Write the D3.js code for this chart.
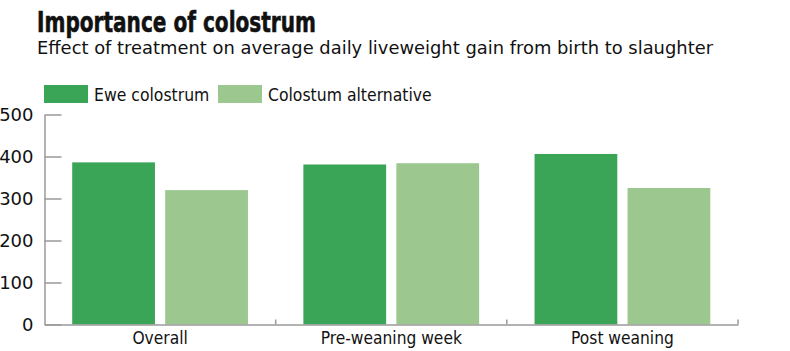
<!DOCTYPE html>
<html>
<head>
<meta charset="utf-8">
<script src="https://cdn.jsdelivr.net/npm/d3@7"></script>
<style>
  body { margin: 0; background: #fff; }
  svg { display: block; }
  text { font-family: "DejaVu Sans", sans-serif; }
</style>
</head>
<body>
<svg width="790" height="351"></svg>
<script>
const categories = ['Overall', 'Pre-weaning week', 'Post weaning'];
const seriesNames = ['Ewe colostrum', 'Colostum alternative'];
const eweColostrum = [386, 381, 406];
const colostrumAlternative = [320, 384, 325];
const yTicks = [0, 100, 200, 300, 400, 500];

const COLORS = ['#3ba557', '#9cc88f'];
const AXIS_GREY = '#9a9a9a';

const rows = categories.map((c, i) => ({cat: c, values: [eweColostrum[i], colostrumAlternative[i]]}));

const svg = d3.select('svg');

// no condensed face installed, so squeeze the glyphs a bit
function condense(sel, k) {
    sel.each(function() {
        const w = this.getComputedTextLength();
        d3.select(this).attr('textLength', w * k).attr('lengthAdjust', 'spacingAndGlyphs');
    });
}

// title + subtitle
svg.append('text')
    .attr('x', 37).attr('y', 32)
    .attr('font-size', 28).attr('font-weight', 'bold')
    .attr('fill', '#111')
    .attr('stroke', '#111').attr('stroke-width', 0.6)
    .attr('textLength', 279).attr('lengthAdjust', 'spacingAndGlyphs')
    .text('Importance of colostrum');

svg.append('text')
    .attr('x', 37).attr('y', 54)
    .attr('font-size', 17)
    .attr('fill', '#111')
    .attr('textLength', 676).attr('lengthAdjust', 'spacingAndGlyphs')
    .text('Effect of treatment on average daily liveweight gain from birth to slaughter');

/* scales */
const x0 = d3.scaleBand().domain(categories).range([44.5, 738]).padding(0);
const x1 = d3.scaleBand().domain([0, 1])
    .range([27.7, x0.bandwidth() - 27.7]).paddingInner(0.11);
const y = d3.scaleLinear().domain([0, 500]).range([324.5, 114.5]);

/* legend */
const legendX = [44, 218];
const legend = svg.append('g').selectAll('g')
    .data(seriesNames).join('g')
    .attr('transform', (d, i) => `translate(${legendX[i]},85)`);
legend.append('rect')
    .attr('width', 44).attr('height', 18)
    .attr('fill', (d, i) => COLORS[i]);
legend.append('text')
    .attr('x', 50).attr('y', 16)
    .attr('font-size', 18).attr('fill', '#111')
    .text(d => d)
    .call(condense, 0.87);

/* bars */
const groups = svg.append('g').selectAll('g')
    .data(rows).join('g')
    .attr('transform', d => `translate(${x0(d.cat)},0)`);
groups.selectAll('rect')
    .data(d => d.values).join('rect')
    .attr('x', (d, i) => x1(i))
    .attr('width', x1.bandwidth())
    .attr('y', d => y(d))
    .attr('height', d => y(0) - y(d))
    .attr('fill', (d, i) => COLORS[i]);

/* y axis, ticks pointing inward */
const yAxis = svg.append('g')
    .attr('transform', 'translate(44.5,0)')
    .call(d3.axisLeft(y).tickValues(yTicks).tickSizeInner(-17).tickSizeOuter(0).tickPadding(11));
yAxis.select('.domain').attr('stroke', AXIS_GREY).attr('stroke-width', 1.5);
yAxis.selectAll('.tick line').attr('stroke', AXIS_GREY).attr('stroke-width', 1.5);
yAxis.selectAll('.tick text')
    .attr('font-family', '"DejaVu Sans", sans-serif')
    .attr('font-size', 18).attr('fill', '#111');

/* x axis */
const xAxis = svg.append('g')
    .attr('transform', `translate(0,${y(0)})`)
    .call(d3.axisBottom(x0).tickSize(0).tickPadding(7));
xAxis.select('.domain').attr('stroke', AXIS_GREY).attr('stroke-width', 1.5);
xAxis.selectAll('.tick text')
    .attr('font-family', '"DejaVu Sans", sans-serif')
    .attr('font-size', 18).attr('fill', '#111')
    .call(condense, 0.86);
// little ticks at the band boundaries
xAxis.selectAll('.sep')
    .data(categories.slice(1).concat([null])).join('line')
    .attr('class', 'sep')
    .attr('x1', d => d ? x0(d) : x0.range()[1])
    .attr('x2', d => d ? x0(d) : x0.range()[1])
    .attr('y1', 0).attr('y2', -5)
    .attr('stroke', AXIS_GREY).attr('stroke-width', 1.5);
</script>
</body>
</html>
